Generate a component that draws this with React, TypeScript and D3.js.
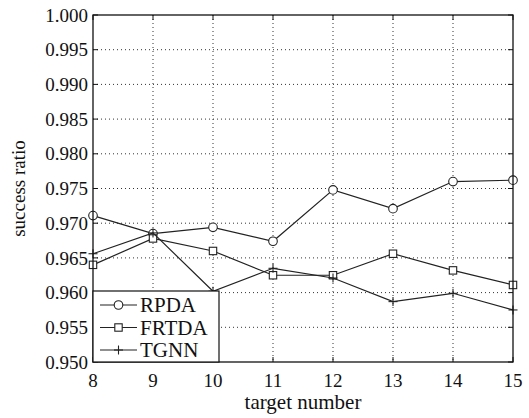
import React from 'react';
import * as d3 from 'd3';

// values
const targets = [8, 9, 10, 11, 12, 13, 14, 15];
const rpda = [0.9711, 0.9685, 0.9694, 0.9674, 0.9748, 0.9721, 0.9760, 0.9762];
const frtda = [0.9640, 0.9678, 0.9660, 0.9625, 0.9625, 0.9656, 0.9632, 0.9611];
const tgnn = [0.9656, 0.9686, 0.9602, 0.9635, 0.9621, 0.9587, 0.9599, 0.9575];
const yTicks = [0.95, 0.955, 0.96, 0.965, 0.97, 0.975, 0.98, 0.985, 0.99, 0.995, 1.0];

const series = [
  { name: 'RPDA', values: rpda, marker: 'circle' },
  { name: 'FRTDA', values: frtda, marker: 'square' },
  { name: 'TGNN', values: tgnn, marker: 'plus' },
];

const W = 529;
const H = 418;
const margin = { top: 15, right: 16, bottom: 56, left: 93 };
const serif = { fontFamily: 'Liberation Serif' };

const Marker = ({ type, x, y }: { type: string; x: number; y: number }) => {
  if (type === 'circle') return <circle cx={x} cy={y} r={4.3} fill="white" stroke="#222" strokeWidth={1.1} />;
  if (type === 'square') return <rect x={x - 3.7} y={y - 3.7} width={7.4} height={7.4} fill="white" stroke="#222" strokeWidth={1.1} />;
  return (
    <g stroke="#222" strokeWidth={1.1}>
      <line x1={x - 4.5} x2={x + 4.5} y1={y} y2={y} />
      <line x1={x} x2={x} y1={y - 4.5} y2={y + 4.5} />
    </g>
  );
};

export default function App() {
  const x = d3.scaleLinear().domain([8, 15]).range([margin.left, W - margin.right]);
  const y = d3.scaleLinear().domain([0.95, 1.0]).range([H - margin.bottom, margin.top]);
  const line = d3.line<number>().x((_, i) => x(targets[i])).y(d => y(d));
  const x0 = x.range()[0], x1 = x.range()[1];
  const y0 = y.range()[0], y1 = y.range()[1];

  const lgX = x0, lgY = 291, lgW = 126, lgH = y0 - 291;

  return (
    <svg width={W} height={H} style={{ position: 'absolute', left: 0, top: 0, background: 'white' }}>
      {/* grid */}
      <g stroke="#333" strokeWidth={1} strokeDasharray="1,3">
        {targets.slice(1, -1).map(t => (
          <line key={'gx' + t} x1={x(t)} x2={x(t)} y1={y1} y2={y0} />
        ))}
        {yTicks.slice(1, -1).map(v => (
          <line key={'gy' + v} x1={x0} x2={x1} y1={y(v)} y2={y(v)} />
        ))}
      </g>
      {/* ticks */}
      <g stroke="#111" strokeWidth={1}>
        {targets.map(t => (
          <g key={'tx' + t}>
            <line x1={x(t)} x2={x(t)} y1={y0} y2={y0 - 5} />
            <line x1={x(t)} x2={x(t)} y1={y1} y2={y1 + 5} />
          </g>
        ))}
        {yTicks.map(v => (
          <g key={'ty' + v}>
            <line x1={x0} x2={x0 + 5} y1={y(v)} y2={y(v)} />
            <line x1={x1} x2={x1 - 5} y1={y(v)} y2={y(v)} />
          </g>
        ))}
      </g>
      {/* series */}
      {series.map(s => (
        <g key={s.name}>
          <path d={line(s.values) || ''} fill="none" stroke="#222" strokeWidth={1.2} />
          {s.values.map((v, i) => (
            <Marker key={i} type={s.marker} x={x(targets[i])} y={y(v)} />
          ))}
        </g>
      ))}
      {/* frame */}
      <rect x={x0} y={y1} width={x1 - x0} height={y0 - y1} fill="none" stroke="#111" strokeWidth={1.3} />
      {/* tick labels */}
      <g fill="#111">
        {targets.map(t => (
          <text key={'lx' + t} x={x(t)} y={y0 + 25} textAnchor="middle" fontSize={19} style={serif}>{t}</text>
        ))}
        {yTicks.map(v => (
          <text key={'ly' + v} x={x0 - 5} y={y(v)} dy="0.35em" textAnchor="end" fontSize={19} style={serif}>{d3.format('.3f')(v)}</text>
        ))}
        <text x={(x0 + x1) / 2} y={H - 9} textAnchor="middle" fontSize={21} style={serif}>target number</text>
        <text transform={`translate(25,${(y0 + y1) / 2}) rotate(-90)`} textAnchor="middle" fontSize={19} style={serif}>success ratio</text>
      </g>
      {/* legend */}
      <g>
        <rect x={lgX} y={lgY} width={lgW} height={lgH} fill="white" stroke="#111" strokeWidth={1.2} />
        {series.map((s, i) => {
          const ly = lgY + 14 + i * 22.5;
          return (
            <g key={'lg' + s.name}>
              <line x1={lgX + 7} x2={lgX + 44} y1={ly} y2={ly} stroke="#222" strokeWidth={1.2} />
              <Marker type={s.marker} x={lgX + 25.5} y={ly} />
              <text x={lgX + 47} y={ly} dy="0.35em" style={serif} fontSize={21} fill="#111">{s.name}</text>
            </g>
          );
        })}
      </g>
    </svg>
  );
}
